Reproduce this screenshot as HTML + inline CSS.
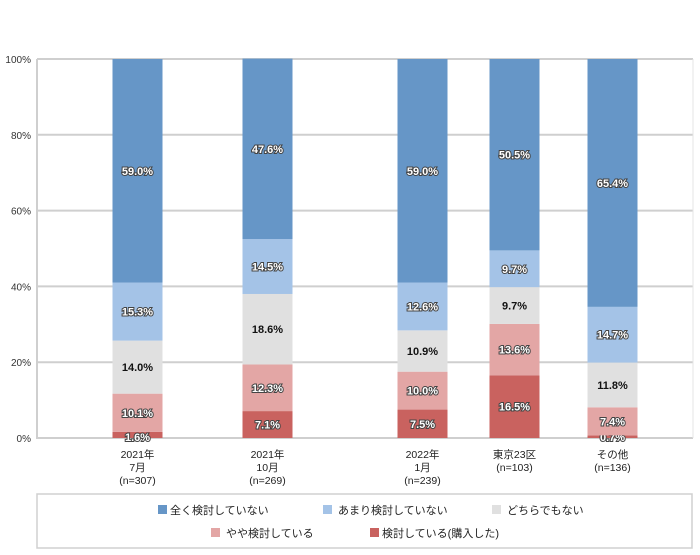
<!DOCTYPE html>
<html><head><meta charset="utf-8"><style>
body{margin:0;background:#fff;width:700px;height:550px;overflow:hidden;font-family:"Liberation Sans","Noto Sans CJK JP",sans-serif}
svg text{font-family:"Liberation Sans","Noto Sans CJK JP",sans-serif}
</style></head><body>
<svg id="c" width="700" height="550"></svg>
<script>
const categories=[["2021年","7月","(n=307)"],["2021年","10月","(n=269)"],["2022年","1月","(n=239)"],["東京23区","(n=103)"],["その他","(n=136)"]];
const barCenters=[137.5,267.5,422.5,514.5,612.5];
const seriesNames=["検討している(購入した)","やや検討している","どちらでもない","あまり検討していない","全く検討していない"];
const s0=[1.6,7.1,7.5,16.5,0.7];
const s1=[10.1,12.3,10.0,13.6,7.4];
const s2=[14.0,18.6,10.9,9.7,11.8];
const s3=[15.3,14.5,12.6,9.7,14.7];
const s4=[59.0,47.6,59.0,50.5,65.4];
const series=[s0,s1,s2,s3,s4];
const colors=["#c9625f","#e3a6a5","#e0e0e0","#a4c3e7","#6696c7"];
const yTicks=[0,20,40,60,80,100];
const svg=document.getElementById('c');const NS="http://www.w3.org/2000/svg";
const y0=438,y1=59,xl=37,xr=693;
const y=v=>y0-(v/100)*(y0-y1);
function mk(t,a,p){const e=document.createElementNS(NS,t);for(const k in a)e.setAttribute(k,a[k]);(p||svg).appendChild(e);return e;}
yTicks.forEach(t=>{const l=mk('line',{x1:xl,x2:xr,y1:y(t),y2:y(t),stroke:'#cfcfcf','stroke-width':2});


const tx=mk('text',{x:31,y:y(t)+4,'text-anchor':'end','font-size':10,fill:'#333'});tx.textContent=t+'%';

});
const ax=mk('line',{x1:xl,x2:xl,y1:y1,y2:y0+1,stroke:'#cfcfcf','stroke-width':2});


mk('line',{x1:xr,x2:xr,y1:y1,y2:y0,stroke:'#e6e6e6','stroke-width':1});
categories.forEach((c,i)=>{let acc=0;const cx=barCenters[i];
series.forEach((s,j)=>{const v=s[i];const r=mk('rect',{x:cx-25,width:50,y:y(acc+v),height:y(acc)-y(acc+v),fill:colors[j]});


let ly=(y(acc)+y(acc+v))/2+4;
if(v<3)ly=y0+3;
const t=mk('text',{x:cx,y:ly,'text-anchor':'middle','font-size':11,'font-weight':'bold'});
if(j==2){t.setAttribute('fill','#111');}else{t.setAttribute('fill','#fff');t.setAttribute('stroke','#444');t.setAttribute('stroke-width','2');t.setAttribute('paint-order','stroke');}
t.textContent=v.toFixed(1)+'%';


acc+=v;});
c.forEach((line,k)=>{const t=mk('text',{x:cx,y:458+k*13,'text-anchor':'middle','font-size':10.5,fill:'#222'});t.textContent=line;

});});
const lg=mk('rect',{x:37,y:494,width:655,height:54,fill:'#fff',stroke:'#d0d0d0','stroke-width':1.5});


const legPos=[[370,533],[211,533],[492,510],[323,510],[158,510]];
seriesNames.forEach((n,j)=>{const [lx,ly]=legPos[j];
const sw=mk('rect',{x:lx,y:ly-5,width:9,height:9,fill:colors[j]});


const t=mk('text',{x:lx+(j==4||j==0?12:15),y:ly+4,'font-size':11,fill:'#222'});t.textContent=n;

});
</script>
</body></html>
